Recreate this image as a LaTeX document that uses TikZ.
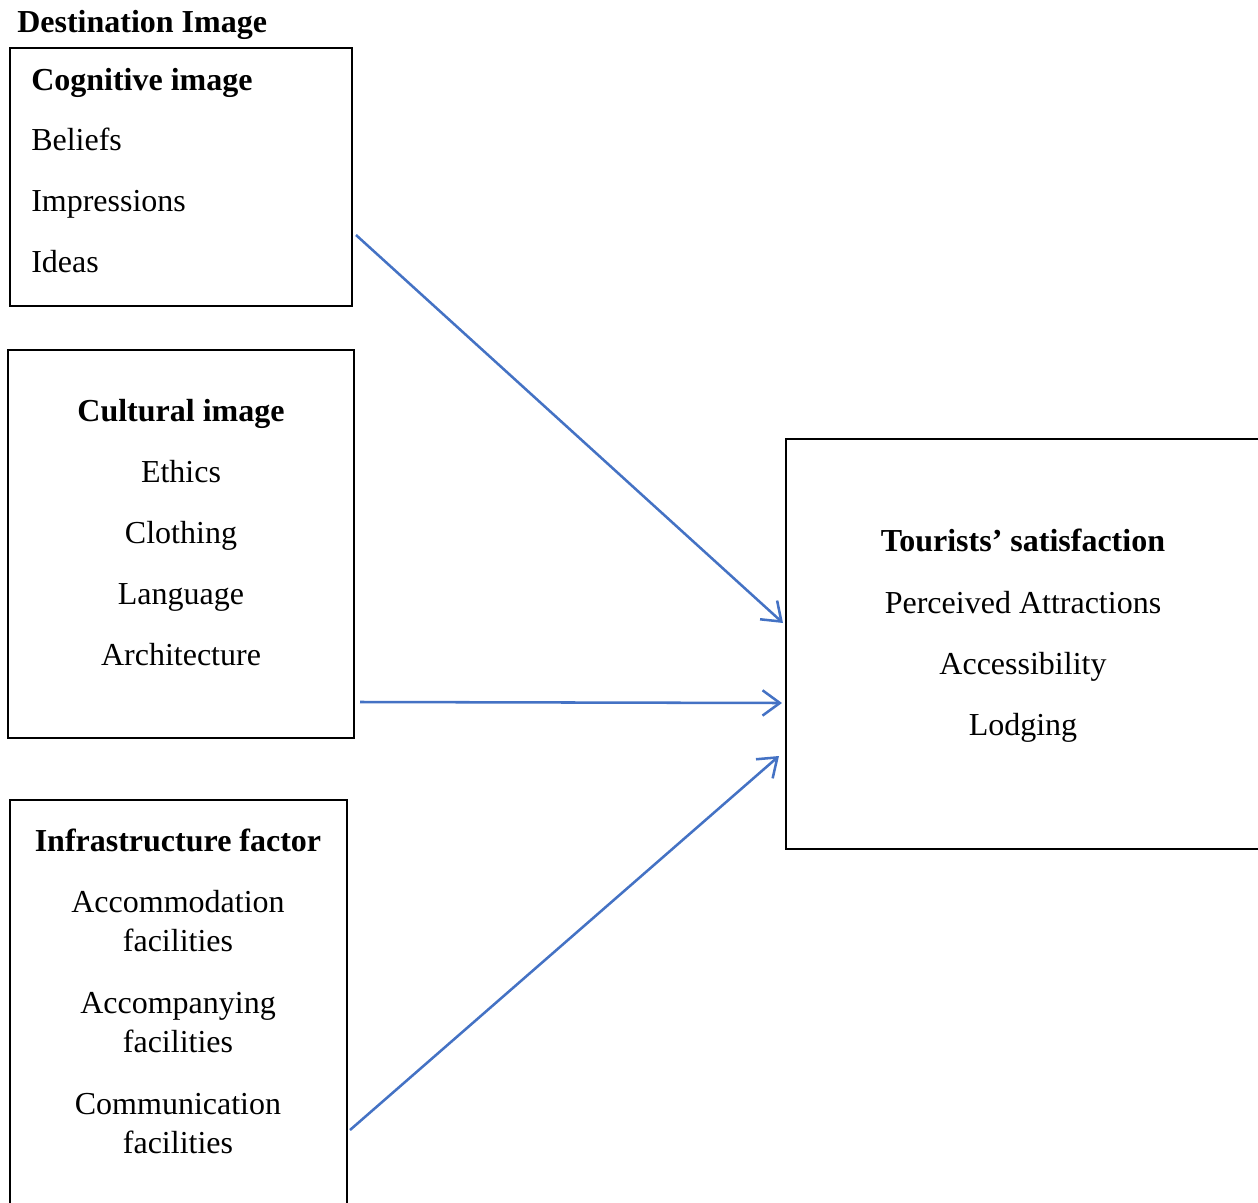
\documentclass[tikz,border=0pt]{standalone}
\usepackage{fontspec}
\setmainfont{Liberation Serif}
\usetikzlibrary{arrows.meta,positioning}
\definecolor{arrowblue}{HTML}{4472C4}
\tikzset{
  box/.style={draw=black, line width=2pt, inner sep=0pt, fill=none},
  txt/.style={anchor=base, inner sep=0pt, font=\fontsize{24}{28}\selectfont},
  txtl/.style={anchor=base west, inner sep=0pt, font=\fontsize{24}{28}\selectfont},
  ttl/.style={txt, font=\fontsize{24}{28}\selectfont\bfseries},
  ttll/.style={txtl, font=\fontsize{24}{28}\selectfont\bfseries},
  link/.style={draw=arrowblue, line width=1.9pt, -{Straight Barb[length=13pt,width=19pt,line width=1.9pt]}}
}
\begin{document}
\begin{tikzpicture}[x=0.75pt,y=-0.75pt]
\useasboundingbox (0,0) rectangle (1258,1203);
\clip (0,0) rectangle (1258,1203);
% boxes
\node[box, minimum width=342*0.75pt, minimum height=258*0.75pt] (cog) at (181,177) {};
\node[box, minimum width=346*0.75pt, minimum height=388*0.75pt] (cul) at (181,544) {};
\node[box, minimum width=337*0.75pt, minimum height=420*0.75pt] (inf) at (178.5,1010) {};
\node[box, minimum width=490*0.75pt, minimum height=410*0.75pt] (tour) at (1031,644) {};
% texts
\node[ttll] (dest) at (17,32) {Destination Image};
\node[ttll] (cogt) at (31,90) {Cognitive image};
\node[txtl] (c1) at (31,150) {Beliefs};
\node[txtl] (c2) at (31,211) {Impressions};
\node[txtl] (c3) at (31,272) {Ideas};
\node[ttl] (cult) at (181,421) {Cultural image};
\node[txt] (u1) at (181,482) {Ethics};
\node[txt] (u2) at (181,543) {Clothing};
\node[txt] (u3) at (181,604) {Language};
\node[txt] (u4) at (181,665) {Architecture};
\node[ttl] (inft) at (178,851) {Infrastructure factor};
\node[txt] (i1) at (178,912) {Accommodation};
\node[txt] (i1b) at (178,951) {facilities};
\node[txt] (i2) at (178,1013) {Accompanying};
\node[txt] (i2b) at (178,1052) {facilities};
\node[txt] (i3) at (178,1114) {Communication};
\node[txt] (i3b) at (178,1153) {facilities};
\node[ttl] (tourt) at (1023,551) {Tourists’ satisfaction};
\node[txt] (t1) at (1023,613) {Perceived Attractions};
\node[txt] (t2) at (1023,674) {Accessibility};
\node[txt] (t3) at (1023,735) {Lodging};
% arrow endpoints
\coordinate (s1) at (356,235);
\coordinate (e1) at (783,623);
\coordinate (s2) at (360,702);
\coordinate (e2) at (782,703);
\coordinate (s3) at (350,1130);
\coordinate (e3) at (779,756);
\draw[link] (s1) -- (e1);
\draw[link] (s2) -- (e2);
\draw[link] (s3) -- (e3);
\end{tikzpicture}
\end{document}
